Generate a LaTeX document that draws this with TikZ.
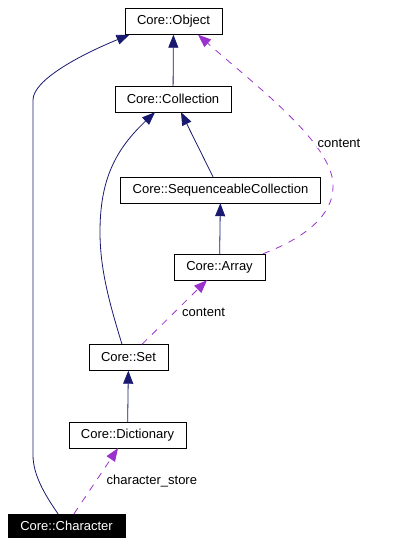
\documentclass[tikz,border=0pt]{standalone}
\usepackage{fontspec}
\setmainfont{Liberation Sans}
\usetikzlibrary{arrows.meta}
\definecolor{inherit}{RGB}{25,25,112}
\definecolor{usage}{RGB}{154,50,205}

\begin{document}
\begin{tikzpicture}[x=1pt,y=-1pt]
    \useasboundingbox (0,0) rectangle (410,546);
    \begin{scope}[every node/.style={rectangle,draw=black,thin,fill=white,inner xsep=12pt,
        minimum height=26pt,font=\fontsize{13}{15}\selectfont}]
      \node (object) at (173.5,21.5) {Core::Object};
      \node (collection) at (173,99) {Core::Collection};
      \node (seqcoll) at (220.5,190) {Core::SequenceableCollection};
      \node (array) at (219.5,267) {Core::Array};
      \node (set) at (128.5,357.5) {Core::Set};
      \node (dictionary) at (127.5,435) {Core::Dictionary};
      \node[fill=black,text=white,minimum height=23pt] (character) at (66.5,525.5) {Core::Character};
    \end{scope}

    \begin{scope}[>={Triangle[length=13pt,width=10pt]},
        every node/.style={font=\fontsize{13}{15}\selectfont,text=black},
        every edge/.style={draw,line width=0.8pt}]
      % inheritance
      \path [->,inherit] (collection) edge (object);
      \path [->,inherit] (array) edge (seqcoll);
      \path [->,inherit] (dictionary) edge (set);
      \path [->,inherit] ([xshift=-7.5pt]seqcoll.north) edge ([xshift=8pt]collection.south);
      \draw [->,inherit,line width=0.8pt] ([xshift=-6.5pt]set.north)
        .. controls (110,305) and (100,270) .. (100,232)
        .. controls (100,180) and (115,150) .. ([xshift=-18pt]collection.south);
      \draw [->,inherit,line width=0.8pt] ([xshift=-8.5pt]character.north)
        .. controls (45,495) and (33,475) .. (33,455) -- (33,100)
        .. controls (33,80) and (80,55) .. ([xshift=-44pt]object.south);
      % usage
      \draw [->,usage,line width=0.8pt,dash pattern=on 7pt off 7pt] ([xshift=-2pt]array.north east)
        .. controls (305,238) and (333,215) .. (333,187)
        .. controls (335,145) and (255,85) .. ([xshift=24.5pt]object.south)
        node[fill=white,inner sep=1pt] at (339,143) {content};
      \path [->,usage,dash pattern=on 7pt off 7pt] ([xshift=13.5pt]set.north) edge
        node[right=4pt,pos=0.5] {content} ([xshift=-12.5pt]array.south);
      \path [->,usage,dash pattern=on 7pt off 7pt] ([xshift=7.5pt]character.north) edge
        node[right=7pt,pos=0.5] {character\_store} ([xshift=-9.5pt]dictionary.south);
    \end{scope}
  \end{tikzpicture}
\end{document}
